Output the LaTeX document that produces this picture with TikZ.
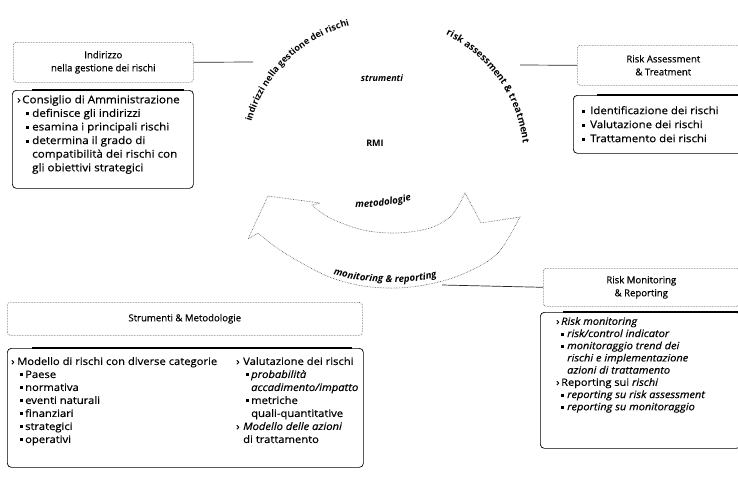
\documentclass[tikz,border=0pt]{standalone}
\usepackage{fontspec}
\setmainfont{Open Sans}
\newfontfamily\wide{Open Sans}[FakeStretch=1.1, FakeBold=0.5]
\newfontfamily\hfont{Open Sans}[FakeBold=0.4]
\usetikzlibrary{decorations.text,calc}
\newcommand\mkA[1]{\makebox[#1][l]{›}}
\newcommand\mkB[2]{\hspace*{#1}\makebox[#2][l]{\rule[1.5pt]{3pt}{3pt}}}
\begin{document}
\begin{tikzpicture}[x=1pt,y=-1pt,
  hdr/.style={draw=black!70, densely dotted, line width=0.6pt, rounded corners=3pt,
    align=center, font=\hfont\fontsize{9.6}{13}\selectfont, inner sep=0pt},
  cbox/.style={draw=black, line width=0.7pt, rounded corners=4pt, inner sep=0pt},
  heavy/.style={line width=1.5pt},
  txt/.style={align=left, inner sep=0pt, anchor=north west},
  conn/.style={draw=black!85, line width=0.7pt},
  band/.style={draw=black!70, line width=0.6pt, densely dotted},
  lbl/.style={inner sep=0pt}]
\useasboundingbox (0,0) rectangle (738,477);

% ---- RMI circle texts
\path[decorate, decoration={text along path, text align=center,
  text={|\bfseries\fontsize{9}{10}\selectfont|indirizzi nella gestione dei rischi}}]
  ($(385,160)+(180.6:139)$) arc[start angle=180.6, end angle=270.6, radius=139];
\path[decorate, decoration={text along path, text align=center,
  text={|\bfseries\fontsize{9.6}{10}\selectfont|risk assessment {\&} treatment}}]
  ($(385,160)+(279.5:139)$) arc[start angle=279.5, end angle=369.5, radius=139];
\node[lbl, font=\bfseries\itshape\fontsize{9}{10}\selectfont] (strum) at (382,78) {strumenti};
\node[lbl, font=\bfseries\fontsize{9}{10}\selectfont] (rmi) at (375,143) {RMI};

% ---- curved block arrow
\draw[band] (268,196) -- (248,239) -- (258,233)
  -- plot[smooth, tension=0.55] coordinates {(258,233) (280,250) (307,266) (332,278) (363,286) (397,288) (430,284) (463,274) (497,254) (520,217)}
  -- (481,223) -- (465,193)
  -- plot[smooth, tension=0.55] coordinates {(465,193) (452,215) (430,228) (397,233) (363,230) (330,218) (312,205)}
  -- (320,203) -- cycle;
\path[decorate, decoration={text along path, text align=center,
  text={|\bfseries\itshape\fontsize{9.6}{10}\selectfont|metodologie}}]
  (340,207) .. controls (370,209) and (402,205) .. (426,195);
\path[decorate, decoration={text along path, text align=center,
  text={|\bfseries\itshape\fontsize{9.6}{10}\selectfont|monitoring {\&} reporting}}]
  (312,267) .. controls (348,285) and (424,289) .. (458,269);

% ---- Indirizzo
\node[hdr, minimum width=180pt, minimum height=40pt, anchor=north west] (h1) at (13,42)
  {Indirizzo\\nella gestione dei rischi};
\node[cbox, minimum width=181pt, minimum height=98pt, anchor=north west] (c1) at (12,90) {};
\draw[heavy] ([xshift=20pt]c1.north west) -- ([xshift=-10pt]c1.north east);
\node[txt, font=\wide\fontsize{10.6}{13.6}\selectfont] (t1) at (17,95) {%
\mkA{5pt}Consiglio di Amministrazione\\
\mkB{9pt}{6pt}definisce gli indirizzi\\
\mkB{9pt}{6pt}esamina i principali rischi\\
\mkB{9pt}{6pt}determina il grado di\\
\hspace*{15pt}compatibilità dei rischi con\\
\hspace*{15pt}gli obiettivi strategici};
\coordinate (e1) at (253,62);
\draw[conn] (h1.east) -- (e1);

% ---- Risk Assessment
\node[hdr, minimum width=172pt, minimum height=40pt, anchor=north west] (h2) at (577,45)
  {Risk Assessment\\\& Treatment};
\node[cbox, minimum width=180pt, minimum height=58pt, anchor=north west] (c2) at (573,95) {};
\draw[heavy] ([xshift=24pt]c2.north west) -- (c2.north east);
\node[txt, font=\wide\fontsize{10.4}{14}\selectfont] (t2) at (582,106) {%
\mkB{0pt}{8pt}Identificazione dei rischi\\
\mkB{0pt}{8pt}Valutazione dei rischi\\
\mkB{0pt}{8pt}Trattamento dei rischi};
\coordinate (e2) at (520,65);
\draw[conn] (h2.west) -- (e2);

% ---- Risk Monitoring
\node[hdr, minimum width=196pt, minimum height=38pt, anchor=north west] (h3) at (543,268)
  {Risk Monitoring\\\& Reporting};
\node[cbox, minimum width=200pt, minimum height=136pt, anchor=north west] (c4) at (540,312) {};
\draw[heavy] ([xshift=23pt]c4.north west) -- (c4.north east);
\node[txt, font=\wide\fontsize{10}{12.2}\selectfont] (t4) at (556,317) {%
\mkA{5pt}\textit{Risk monitoring}\\
\mkB{5pt}{6pt}\textit{risk/control indicator}\\
\mkB{5pt}{6pt}\textit{monitoraggio trend dei}\\
\hspace*{11pt}\textit{rischi e implementazione}\\
\hspace*{11pt}\textit{azioni di trattamento}\\
\mkA{5pt}Reporting sui \textit{rischi}\\
\mkB{5pt}{6pt}\textit{reporting su risk assessment}\\
\mkB{5pt}{6pt}\textit{reporting su monitoraggio}};
\coordinate (e3) at (442,285);
\draw[conn] (h3.west) -- (e3);

% ---- Strumenti & Metodologie
\node[hdr, minimum width=355pt, minimum height=33pt, anchor=north west] (h5) at (7,302)
  {Strumenti \& Metodologie};
\node[cbox, minimum width=356pt, minimum height=119pt, anchor=north west] (c5) at (7,348) {};
\draw[heavy] ([xshift=25pt]c5.north west) -- ([xshift=-12pt]c5.north east);
\node[txt, font=\wide\fontsize{10.2}{13}\selectfont] (t5a) at (11,357) {%
\mkA{6pt}Modello di rischi con diverse categorie\\
\mkB{9pt}{5pt}Paese\\
\mkB{9pt}{5pt}normativa\\
\mkB{9pt}{5pt}eventi naturali\\
\mkB{9pt}{5pt}finanziari\\
\mkB{9pt}{5pt}strategici\\
\mkB{9pt}{5pt}operativi};
\node[txt, font=\wide\fontsize{10.2}{13}\selectfont] (t5b) at (236,357) {%
\mkA{7pt}Valutazione dei rischi\\
\mkB{10pt}{5pt}\textit{probabilità}\\
\hspace*{15pt}\textit{accadimento/impatto}\\
\mkB{10pt}{5pt}metriche\\
\hspace*{15pt}quali-quantitative\\
\mkA{7pt}\textit{Modello delle azioni}\\
\hspace*{7pt}di trattamento};
\end{tikzpicture}
\end{document}
